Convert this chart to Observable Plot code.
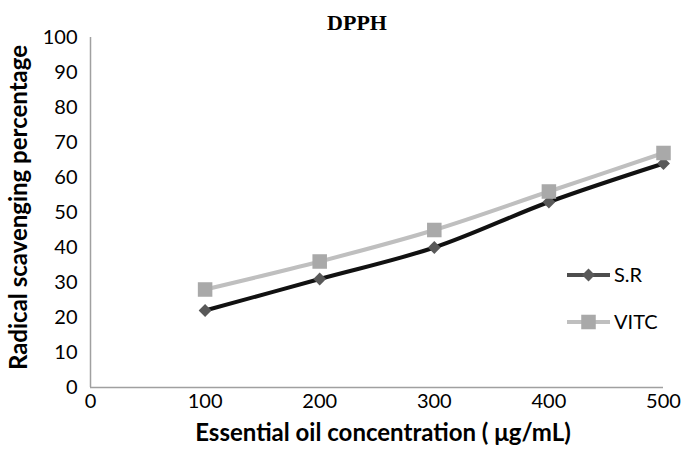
<!DOCTYPE html>
<html><head><meta charset="utf-8">
<script src="https://cdn.jsdelivr.net/npm/d3@7"></script>
<script src="https://cdn.jsdelivr.net/npm/@observablehq/plot@0.6"></script>
<style>body{margin:0;background:#fff}</style>
</head><body><div id="chart"></div>
<script>
const concentrations = [100, 200, 300, 400, 500];
const srValues = [22, 31, 40, 53, 64];
const vitcValues = [28, 36, 45, 56, 67];
const xTicks = [0, 100, 200, 300, 400, 500];
const yTicks = [0, 10, 20, 30, 40, 50, 60, 70, 80, 90, 100];
const seriesNames = ["S.R", "VITC"];
const titleText = "DPPH";
const xLabel = "Essential oil concentration ( μg/mL)";
const yLabel = "Radical scavenging percentage";

const styles = {
  "S.R": {line: "#111111", legendLine: "#4d4d4d", fill: "#595959", symbol: "diamond2", r: 5.8, d3sym: d3.symbolDiamond2},
  "VITC": {line: "#bfbfbf", legendLine: "#bfbfbf", fill: "#a9a9a9", symbol: "square", r: 8.2, d3sym: d3.symbolSquare}
};

const valuesBySeries = {"S.R": srValues, "VITC": vitcValues};
const data = seriesNames.flatMap(s => concentrations.map((c, i) => ({x: c, y: valuesBySeries[s][i], series: s})));

const marks = [
  Plot.ruleY([0], {stroke: "#a0a0a0", strokeWidth: 1.5}),
  Plot.ruleX([0], {stroke: "#a0a0a0", strokeWidth: 1.5}),
  Plot.axisX({ticks: xTicks, tickSize: 0, tickPadding: 6, fontSize: 20, label: null, tickFormat: d => String(d)}),
  Plot.axisY({ticks: yTicks, tickSize: 0, tickPadding: 13, fontSize: 20, label: null, tickFormat: d => String(d)})
];
for (const s of seriesNames) {
  const st = styles[s];
  const sd = data.filter(d => d.series === s);
  marks.push(Plot.line(sd, {x: "x", y: "y", stroke: st.line, strokeWidth: 4, curve: "catmull-rom"}));
  marks.push(Plot.dot(sd, {x: "x", y: "y", symbol: st.symbol, r: st.r, fill: st.fill, stroke: "none"}));
}
marks.push(Plot.text([titleText], {frameAnchor: "top", dx: -20, dy: -23, fontSize: 22, fontWeight: "bold", fontFamily: "Liberation Serif", fill: "#000"}));
marks.push(Plot.text([xLabel], {frameAnchor: "bottom", dx: 6, dy: 53, fontSize: 24, fontWeight: "bold", fill: "#000"}));
marks.push(Plot.text([yLabel], {frameAnchor: "left", textAnchor: "middle", dx: -71, dy: -5, rotate: -90, fontSize: 24, fontWeight: "bold", fill: "#000"}));

const plot = Plot.plot({
  width: 685, height: 458,
  marginTop: 37, marginLeft: 90, marginRight: 22, marginBottom: 71,
  x: {domain: [0, 500]},
  y: {domain: [0, 100]},
  style: {fontFamily: "Lato", color: "#000", background: "#fff"},
  marks
});

const svg = d3.select(plot);
const leg = svg.append("g").attr("transform", "translate(567,275)");
seriesNames.forEach((s, i) => {
  const st = styles[s];
  const g = leg.append("g").attr("transform", `translate(0,${i * 47})`);
  g.append("line").attr("x1", 0).attr("x2", 43).attr("y1", 0).attr("y2", 0)
    .attr("stroke", st.legendLine).attr("stroke-width", 4);
  g.append("path").attr("transform", "translate(21.5,0)")
    .attr("d", d3.symbol(st.d3sym, st.r * st.r * Math.PI)()).attr("fill", st.fill);
  g.append("text").attr("x", 47).attr("y", 0).attr("dy", "0.35em")
    .attr("text-anchor", "start")
    .attr("font-size", 20).attr("font-family", "Lato").attr("fill", "#000").text(s);
});

document.getElementById("chart").appendChild(plot);
</script>
</body></html>
